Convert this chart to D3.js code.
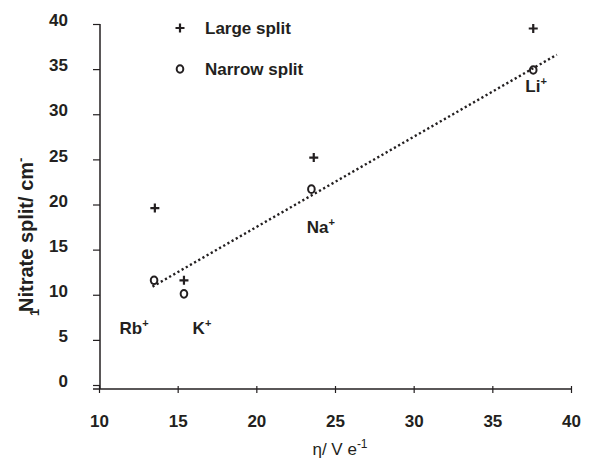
<!DOCTYPE html>
<html>
<head>
<meta charset="utf-8">
<script src="https://cdn.jsdelivr.net/npm/d3@7"></script>
<style>
  body { margin: 0; background: #fff; }
  text { font-family: "Liberation Sans", Arial, sans-serif; font-weight: bold; fill: #231f20; }
</style>
</head>
<body>
<svg id="chart" width="590" height="467"></svg>
<script>
// values
let etaLarge = [13.55, 15.4, 23.65, 37.6];
let splitLarge = [19.6, 11.6, 25.2, 39.5];
let etaNarrow = [13.5, 15.4, 23.5, 37.6];
let splitNarrow = [11.6, 10.1, 21.7, 34.9];
let trendEta = [13.4, 39.1];
let trendSplit = [10.9, 36.6];
let ionNames = ["Rb", "K", "Na", "Li"];
let ionEta = [11.3, 15.95, 23.2, 37.1];
let ionSplit = [5.7, 5.7, 16.8, 32.5];
let xTicks = [10, 15, 20, 25, 30, 35, 40];
let yTicks = [0, 5, 10, 15, 20, 25, 30, 35, 40];
let legendNames = ["Large split", "Narrow split"];

function ScatterPlot() {
    let self = this;
    let ink = "#231f20";

    function plusPath(g, px, py) {
        g.append("path")
            .attr("d", "M" + (px - 4.5) + "," + py + "H" + (px + 4.5) +
                "M" + px + "," + (py - 4.5) + "V" + (py + 4.5))
            .attr("stroke", ink).attr("stroke-width", 2.2).attr("fill", "none");
    }

    function ring(g, px, py) {
        g.append("ellipse")
            .attr("cx", px).attr("cy", py).attr("rx", 3.3).attr("ry", 3.8)
            .attr("stroke", ink).attr("stroke-width", 2).attr("fill", "none");
    }

    function draw() {
        let svg = d3.select("#chart");
        self.x = d3.scaleLinear().domain([10, 40]).range([99, 571]);
        self.y = d3.scaleLinear().domain([0, 40]).range([385, 24]);
        let xAxisY = 389;

        // y axis
        let yAxis = svg.append("g").attr("transform", "translate(100,0)")
            .call(d3.axisLeft(self.y).tickValues(yTicks).tickSize(7).tickPadding(25));
        yAxis.select(".domain").remove();
        yAxis.append("line").attr("x1", 0).attr("x2", 0)
            .attr("y1", self.y(40)).attr("y2", xAxisY)
            .attr("stroke", ink).attr("stroke-width", 1.5);
        yAxis.selectAll(".tick line").attr("stroke", ink).attr("stroke-width", 1.2);
        yAxis.selectAll(".tick text")
            .attr("dy", "0.1em")
            .style("font-size", "17px").style("font-family", "Liberation Sans, Arial, sans-serif")
            .style("font-weight", "bold").attr("fill", ink);

        // x axis
        let xAxis = svg.append("g").attr("transform", "translate(0," + xAxisY + ")")
            .call(d3.axisBottom(self.x).tickValues(xTicks).tickSize(0).tickPadding(26));
        xAxis.select(".domain").remove();
        xAxis.append("line").attr("x1", 93).attr("x2", self.x(40))
            .attr("y1", 0).attr("y2", 0).attr("stroke", ink).attr("stroke-width", 1.5);
        xAxis.selectAll(".tick").append("line")
            .attr("y1", -3).attr("y2", 4).attr("stroke", ink).attr("stroke-width", 1.2);
        xAxis.selectAll(".tick text")
            .style("font-size", "17px").style("font-family", "Liberation Sans, Arial, sans-serif")
            .style("font-weight", "bold").attr("fill", ink);

        // axis titles
        let xt = svg.append("text").attr("x", 340).attr("y", 455)
            .attr("text-anchor", "middle").style("font-size", "17px").style("font-weight", "normal");
        xt.append("tspan").text("\u03b7/ V e");
        xt.append("tspan").attr("dy", -7).style("font-size", "12px").text("-1");

        let yt = svg.append("text").attr("transform", "translate(33,312) rotate(-90)")
            .attr("text-anchor", "start").style("font-size", "20px");
        yt.append("tspan").text("Nitrate split/ cm");
        yt.append("tspan").attr("dy", -8).style("font-size", "13px").text("-");
        svg.append("text").attr("transform", "translate(39,316) rotate(-90)")
            .style("font-size", "13px").text("1");

        // trend line
        svg.append("path")
            .datum(d3.zip(trendEta, trendSplit))
            .attr("d", d3.line().x(d => self.x(d[0])).y(d => self.y(d[1])))
            .attr("stroke", ink).attr("stroke-width", 2.4)
            .attr("stroke-dasharray", "2.2,2.6").attr("fill", "none");

        let marks = svg.append("g");
        etaLarge.forEach((e, i) => plusPath(marks, self.x(e), self.y(splitLarge[i])));
        etaNarrow.forEach((e, i) => ring(marks, self.x(e), self.y(splitNarrow[i])));

        // ion labels
        ionNames.forEach((n, i) => {
            let t = svg.append("text").attr("x", self.x(ionEta[i])).attr("y", self.y(ionSplit[i]))
                .style("font-size", "17px");
            t.append("tspan").text(n);
            t.append("tspan").attr("dy", -7).style("font-size", "11px").text("+");
        });

        // legend
        plusPath(svg, 180, 28);
        ring(svg, 180, 69);
        svg.append("text").attr("x", 205).attr("y", 34).style("font-size", "17px").text(legendNames[0]);
        svg.append("text").attr("x", 205).attr("y", 75).style("font-size", "17px").text(legendNames[1]);
    }

    return { draw };
}

ScatterPlot().draw();
</script>
</body>
</html>
